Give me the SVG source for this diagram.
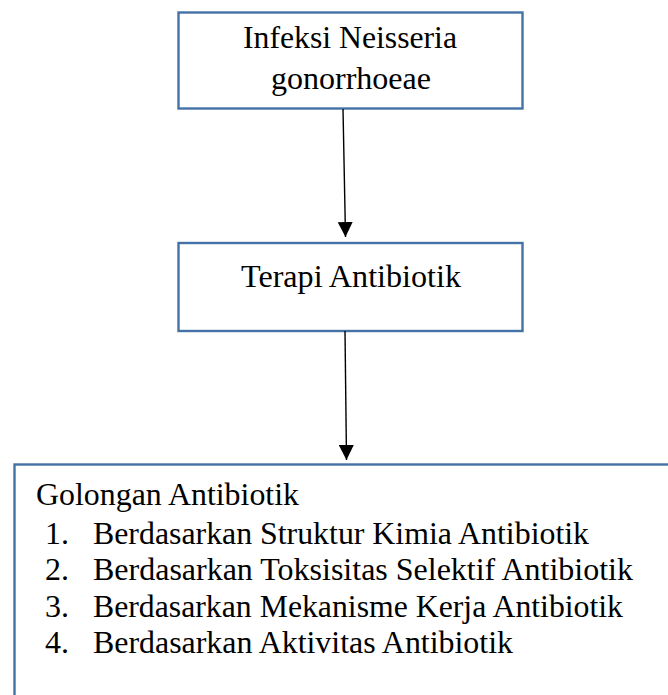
<svg xmlns="http://www.w3.org/2000/svg" width="668" height="695" viewBox="0 0 668 695">
<defs>
<style>
.box{fill:#ffffff;stroke:#4472A6;stroke-width:2.4}
.t{font-family:"Liberation Serif","Times New Roman",serif;font-size:32px;fill:#000}
.c{text-anchor:middle}
.ln{stroke:#000;stroke-width:1.4;fill:none}
</style>
<marker id="ah" viewBox="0 0 10 10" refX="10" refY="5" markerWidth="15" markerHeight="15" markerUnits="userSpaceOnUse" orient="auto">
<path d="M0,0 L10,5 L0,10 Z" fill="#000"/>
</marker>
</defs>
<rect width="668" height="695" fill="#ffffff"/>
<g id="node-infeksi">
<rect class="box" x="178.5" y="12.5" width="344" height="96"/>
<text class="t c" x="350" y="48" textLength="214" lengthAdjust="spacingAndGlyphs">Infeksi Neisseria</text>
<text class="t c" x="351" y="89" textLength="160" lengthAdjust="spacingAndGlyphs">gonorrhoeae</text>
</g>
<g id="node-terapi">
<rect class="box" x="178.5" y="243" width="344" height="88"/>
<text class="t c" x="351" y="287" textLength="220" lengthAdjust="spacingAndGlyphs">Terapi Antibiotik</text>
</g>
<g id="node-golongan">
<rect class="box" x="14.5" y="464.5" width="700" height="260"/>
<text class="t" x="36" y="505" textLength="263" lengthAdjust="spacingAndGlyphs">Golongan Antibiotik</text>
<text class="t" x="45" y="544">1.</text>
<text class="t" x="93" y="544" textLength="496" lengthAdjust="spacingAndGlyphs">Berdasarkan Struktur Kimia Antibiotik</text>
<text class="t" x="45" y="580">2.</text>
<text class="t" x="93" y="580" textLength="540" lengthAdjust="spacingAndGlyphs">Berdasarkan Toksisitas Selektif Antibiotik</text>
<text class="t" x="45" y="617">3.</text>
<text class="t" x="93" y="617" textLength="530" lengthAdjust="spacingAndGlyphs">Berdasarkan Mekanisme Kerja Antibiotik</text>
<text class="t" x="45" y="653">4.</text>
<text class="t" x="93" y="653" textLength="420" lengthAdjust="spacingAndGlyphs">Berdasarkan Aktivitas Antibiotik</text>
</g>
<g id="connectors">
<line class="ln" x1="343" y1="109" x2="345.5" y2="237" marker-end="url(#ah)"/>
<line class="ln" x1="345" y1="331" x2="346.5" y2="460" marker-end="url(#ah)"/>
</g>
</svg>
